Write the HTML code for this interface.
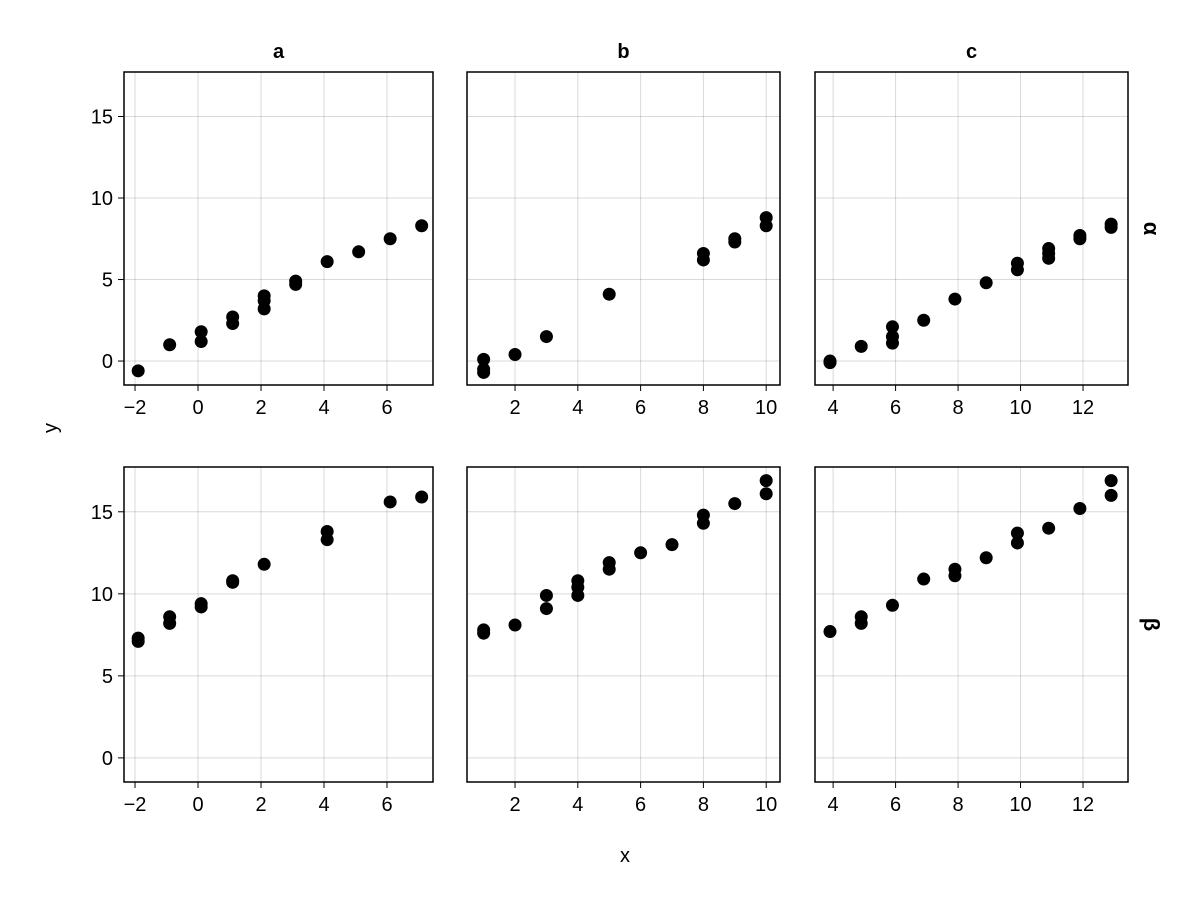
<!DOCTYPE html>
<html><head><meta charset="utf-8"><style>
body{margin:0;background:#fff;font-family:"Liberation Sans","DejaVu Sans",sans-serif;}
</style></head><body>
<svg id="chart" width="1200" height="900" xmlns="http://www.w3.org/2000/svg" font-family="Liberation Sans, DejaVu Sans, sans-serif"></svg>
<script>
const colTitles=["a","b","c"];
const rowTitles=["α","β"];
const yTicks=[0,5,10,15];
const xTicksA=[-2,0,2,4,6];
const xTicksB=[2,4,6,8,10];
const xTicksC=[4,6,8,10,12];
const aAlphaX=[-1.9,-0.9,0.1,0.1,1.1,1.1,2.1,2.1,2.1,3.1,3.1,4.1,5.1,6.1,7.1];
const aAlphaY=[-0.6,1.0,1.2,1.8,2.3,2.7,3.2,3.7,4.0,4.7,4.9,6.1,6.7,7.5,8.3];
const bAlphaX=[1,1,1,2,3,5,8,8,9,9,10,10];
const bAlphaY=[0.1,-0.5,-0.7,0.4,1.5,4.1,6.2,6.6,7.3,7.5,8.3,8.8];
const cAlphaX=[3.9,3.9,4.9,5.9,5.9,5.9,6.9,7.9,8.9,9.9,9.9,10.9,10.9,10.9,11.9,11.9,12.9,12.9];
const cAlphaY=[-0.1,0,0.9,1.1,1.5,2.1,2.5,3.8,4.8,5.6,6.0,6.3,6.6,6.9,7.5,7.7,8.2,8.4];
const aBetaX=[-1.9,-1.9,-0.9,-0.9,0.1,0.1,1.1,1.1,2.1,4.1,4.1,6.1,7.1];
const aBetaY=[7.1,7.3,8.2,8.6,9.2,9.4,10.7,10.8,11.8,13.3,13.8,15.6,15.9];
const bBetaX=[1,1,2,3,3,4,4,4,5,5,6,7,8,8,9,10,10];
const bBetaY=[7.6,7.8,8.1,9.1,9.9,9.9,10.4,10.8,11.5,11.9,12.5,13.0,14.3,14.8,15.5,16.1,16.9];
const cBetaX=[3.9,4.9,4.9,5.9,6.9,7.9,7.9,8.9,9.9,9.9,10.9,11.9,12.9,12.9];
const cBetaY=[7.7,8.2,8.6,9.3,10.9,11.1,11.5,12.2,13.1,13.7,14.0,15.2,16.0,16.9];

const svg=document.getElementById('chart');
const NS="http://www.w3.org/2000/svg";
function mk(tag,attrs,parent){const e=document.createElementNS(NS,tag);for(const k in attrs)e.setAttribute(k,attrs[k]);(parent||svg).appendChild(e);return e;}
const cols=[{l:124,r:433,d:[-2.35,7.46],t:xTicksA},{l:467,r:780,d:[0.47,10.44],t:xTicksB},{l:815,r:1128,d:[3.42,13.44],t:xTicksC}];
const rows=[{t:72,b:385},{t:467,b:782}];
const yDom=[-1.47,17.73];
const data=[[[aAlphaX,aAlphaY],[bAlphaX,bAlphaY],[cAlphaX,cAlphaY]],[[aBetaX,aBetaY],[bBetaX,bBetaY],[cBetaX,cBetaY]]];
rows.forEach((R,ri)=>{cols.forEach((C,ci)=>{
  const xs=v=>C.l+(v-C.d[0])/(C.d[1]-C.d[0])*(C.r-C.l);
  const ys=v=>R.b-(v-yDom[0])/(yDom[1]-yDom[0])*(R.b-R.t);
  const g=mk('g',{});
  
  
  C.t.forEach(v=>{
    const l=mk('line',{x1:xs(v),x2:xs(v),y1:R.t,y2:R.b,stroke:'#000','stroke-opacity':0.15,'stroke-width':1},g);
    
    const tk=mk('line',{x1:xs(v),x2:xs(v),y1:R.b,y2:R.b+6,stroke:'#000'},g);
    
    const t=mk('text',{x:xs(v),y:R.b+29,'font-size':20,'text-anchor':'middle'},g);
    t.textContent=v<0?'−'+(-v):v;
    
  });
  yTicks.forEach(v=>{
    const l=mk('line',{x1:C.l,x2:C.r,y1:ys(v),y2:ys(v),stroke:'#000','stroke-opacity':0.15,'stroke-width':1},g);
    
    if(ci===0){
      const tk=mk('line',{x1:C.l-6,x2:C.l,y1:ys(v),y2:ys(v),stroke:'#000'},g);
      
      const t=mk('text',{x:C.l-11,y:ys(v)+7,'font-size':20,'text-anchor':'end'},g);
      t.textContent=v;
      
    }
  });
  const [X,Y]=data[ri][ci];
  X.forEach((x,i)=>{
    const c=mk('circle',{cx:xs(x),cy:ys(Y[i]),r:6.5,fill:'#000'},g);
    
  });
  const fr=mk('rect',{x:C.l,y:R.t,width:C.r-C.l,height:R.b-R.t,fill:'none',stroke:'#000','stroke-width':1.5},g);
  
  if(ri===0){
    const t=mk('text',{x:(C.l+C.r)/2,y:58,'font-size':20,'font-weight':'bold','text-anchor':'middle'});
    t.textContent=colTitles[ci];
    
  }
});
  const m=(R.t+R.b)/2;
  const t=mk('text',{x:1144,y:m,'font-size':22,'font-weight':'bold','text-anchor':'middle',transform:`rotate(90 1144 ${m})`});
  t.textContent=rowTitles[ri];
  
});
const yl=mk('text',{x:57,y:428,'font-size':20,'text-anchor':'middle',transform:'rotate(-90 57 428)'});
yl.textContent='y';

const xl=mk('text',{x:625,y:862,'font-size':20,'text-anchor':'middle'});
xl.textContent='x';

</script>
</body></html>
